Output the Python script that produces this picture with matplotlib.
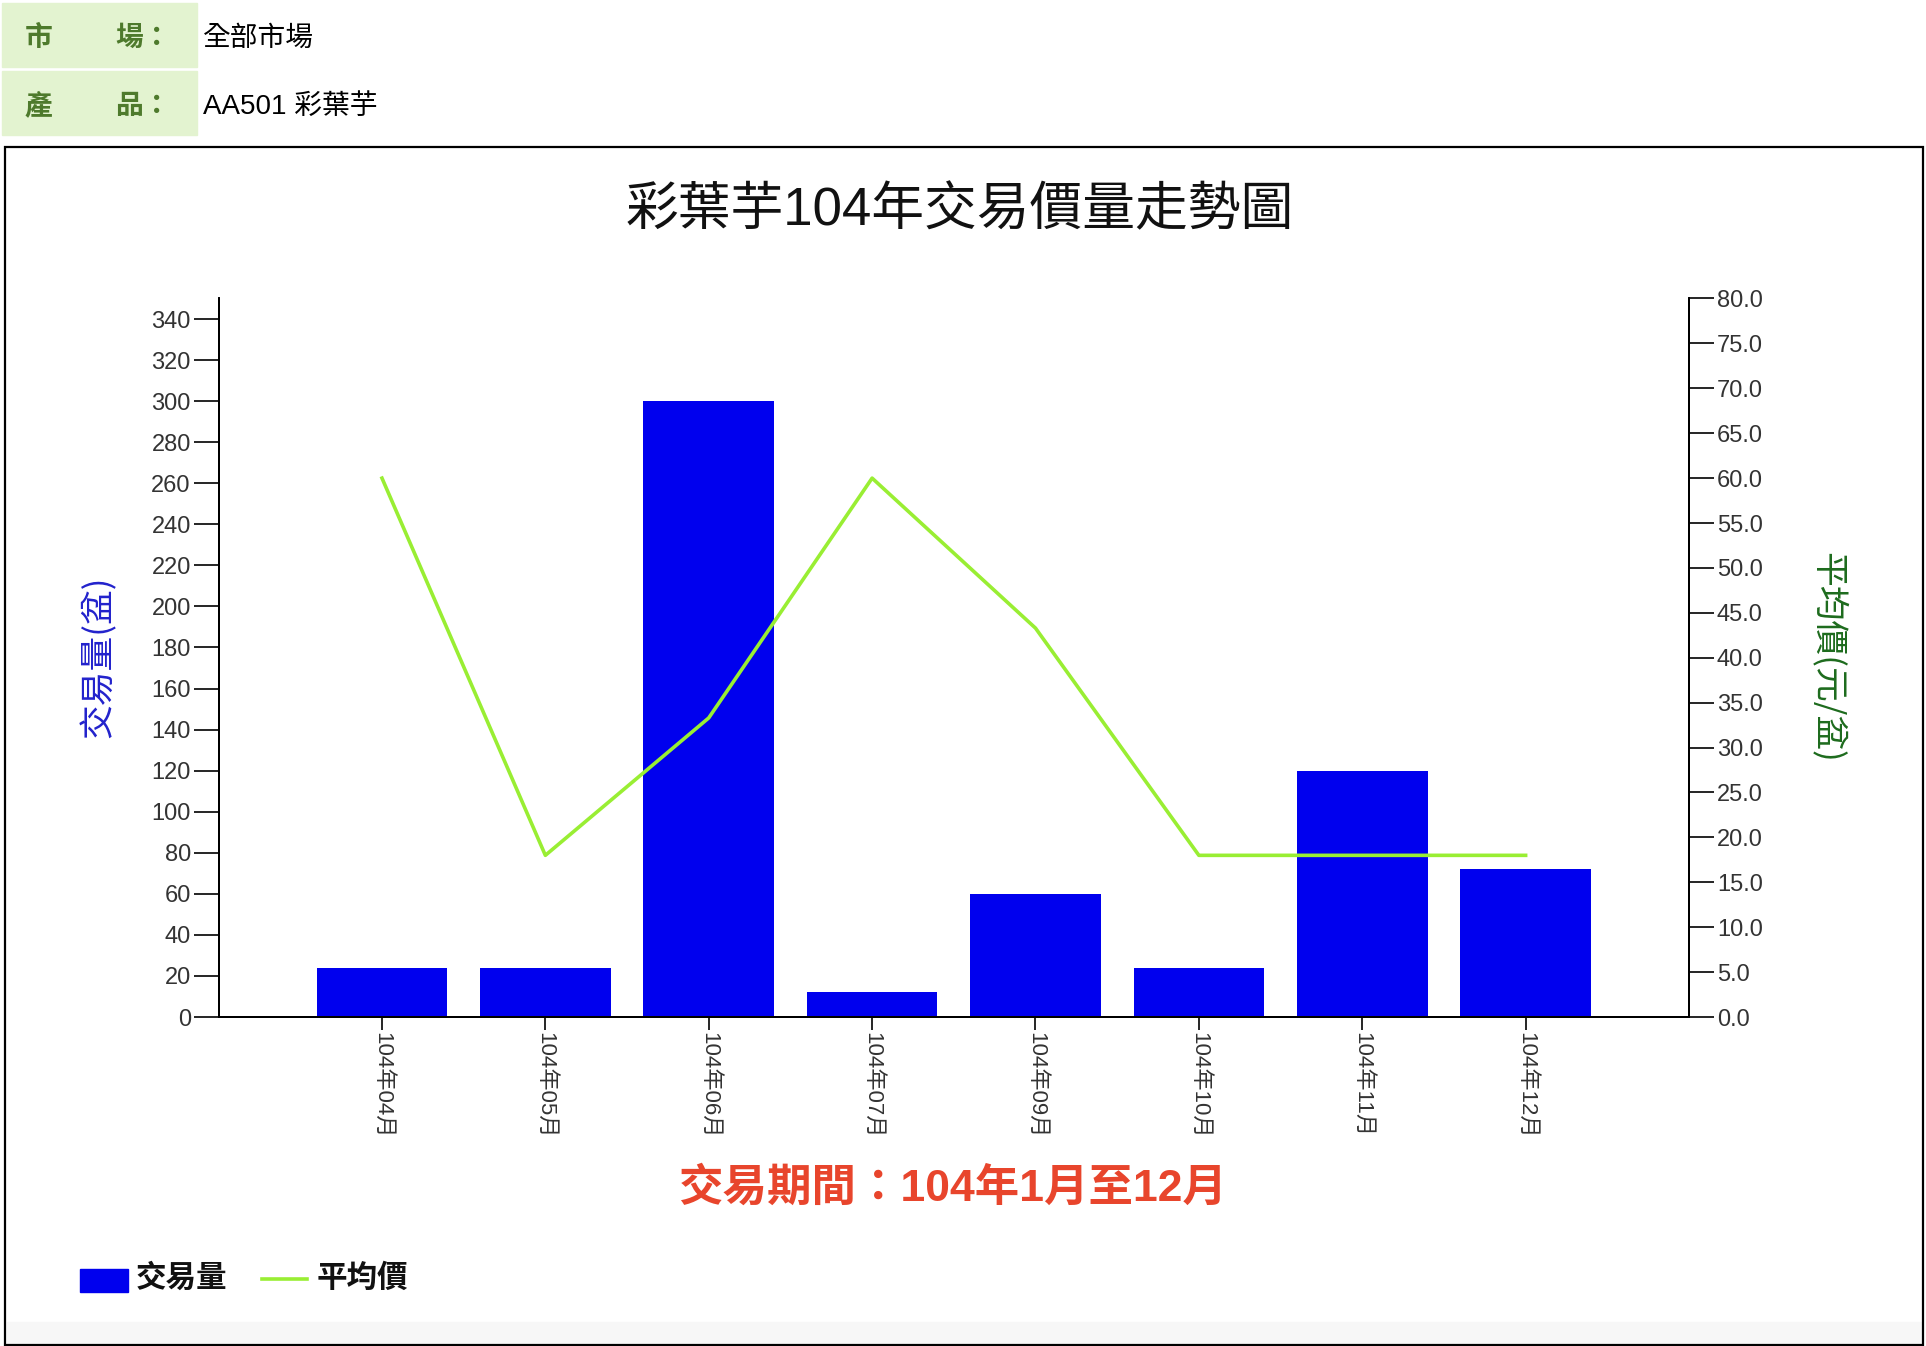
import matplotlib
matplotlib.use('Agg')
import matplotlib.pyplot as plt
from matplotlib.patches import Rectangle

plt.rcParams['font.family'] = ['Liberation Sans', 'Noto Sans CJK TC', 'DejaVu Sans']

months = ['104年04月', '104年05月', '104年06月', '104年07月',
          '104年09月', '104年10月', '104年11月', '104年12月']
volume = [24, 24, 300, 12, 60, 24, 120, 72]
price = [60.0, 18.0, 33.3, 60.0, 43.3, 18.0, 18.0, 18.0]
vol_ticks = list(range(0, 341, 20))
price_ticks = [i * 5.0 for i in range(17)]

W, H = 1926, 1346
fig = plt.figure(figsize=(W / 100, H / 100), dpi=100)

# header rows
for y0 in (3, 71):
    fig.patches.append(Rectangle((2 / W, 1 - (y0 + 64) / H), 195 / W, 64 / H,
                                 transform=fig.transFigure, color='#e3f3d0', zorder=0))
hdr_green = '#4e7a2c'
fig.text(25 / W, 1 - 39 / H, '市', fontsize=20, fontweight='bold', color=hdr_green, va='center')
fig.text(115 / W, 1 - 39 / H, '場：', fontsize=20, fontweight='bold', color=hdr_green, va='center')
fig.text(25 / W, 1 - 107 / H, '產', fontsize=20, fontweight='bold', color=hdr_green, va='center')
fig.text(115 / W, 1 - 107 / H, '品：', fontsize=20, fontweight='bold', color=hdr_green, va='center')
fig.text(203 / W, 1 - 39 / H, '全部市場', fontsize=20, color='black', va='center')
fig.text(203 / W, 1 - 107 / H, 'AA501 彩葉芋', fontsize=20, color='black', va='center')

# chart frame
fig.patches.append(Rectangle((5 / W, 1 / H), 1918 / W, (H - 148) / H,
                             transform=fig.transFigure, fill=False,
                             edgecolor='black', linewidth=1.6, zorder=1))
fig.patches.append(Rectangle((7 / W, 2 / H), 1914 / W, 22 / H,
                             transform=fig.transFigure, color='#f7f7f7', zorder=0))

ax = fig.add_axes([218.6 / W, 1 - 1017 / H, (1689 - 218.6) / W, (1017 - 298.5) / H])
ax2 = ax.twinx()

x = list(range(1, len(months) + 1))
ax.bar(x, volume, width=0.8, color='#0000ee', zorder=2)
ax2.plot(x, price, color='#99ee33', linewidth=2.6, zorder=3)

ax.set_xlim(0, len(months) + 1)
ax.set_ylim(0, 350)
ax2.set_ylim(0, 80)
ax.set_yticks(vol_ticks)
ax.set_yticklabels([str(v) for v in vol_ticks])
ax2.set_yticks(price_ticks)
ax2.set_yticklabels([f'{v:.1f}' for v in price_ticks])
ax.set_xticks(x)
ax.set_xticklabels(months, rotation=270, fontsize=16, color='#333333')

for a in (ax, ax2):
    a.spines['top'].set_visible(False)
    for s in ('left', 'right', 'bottom'):
        a.spines[s].set_linewidth(1.4)
ax.tick_params(axis='y', length=18, width=1.2, labelsize=17, labelcolor='#333333', pad=2)
ax2.tick_params(axis='y', length=18, width=1.2, labelsize=17, labelcolor='#333333', pad=2)
ax.tick_params(axis='x', length=9, width=1.2, pad=2)
ax.patch.set_visible(False)

fig.text(98 / W, 1 - 657 / H, '交易量(盆)', rotation=90, fontsize=25, color='#2222cc',
         ha='center', va='center', family=['Noto Sans CJK TC'])
fig.text(1828 / W, 1 - 657 / H, '平均價(元/盆)', rotation=270, fontsize=25, color='#1d6b1d',
         ha='center', va='center', family=['Noto Sans CJK TC'])

fig.text(960 / W, 1 - 211 / H, '彩葉芋104年交易價量走勢圖', fontsize=38, color='#111111',
         ha='center', va='center')
fig.text(952 / W, 1 - 1188 / H, '交易期間：104年1月至12月', fontsize=32, fontweight='bold',
         color='#e8452c', ha='center', va='center')

# legend
fig.patches.append(Rectangle((80 / W, 1 - 1292 / H), 48 / W, 23 / H,
                             transform=fig.transFigure, color='#0000ee'))
fig.text(136 / W, 1 - 1279 / H, '交易量', fontsize=22, fontweight='bold', color='#111111', va='center')
fig.lines.append(plt.Line2D([262 / W, 307 / W], [1 - 1279 / H, 1 - 1279 / H],
                            transform=fig.transFigure, color='#99ee33', linewidth=2.6))
fig.text(317 / W, 1 - 1279 / H, '平均價', fontsize=22, fontweight='bold', color='#111111', va='center')

fig.savefig('out.png', dpi=100, facecolor='white')
